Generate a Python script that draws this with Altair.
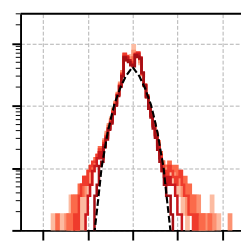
import altair as alt
import pandas as pd
import numpy as np

# ---- data ----
bin_start = -2.0
bin_width = 0.05
n_bins = 86
count_unit = 0.0018  # density represented by one sample in a bin

series_names = ["s0", "s1", "s2", "s3", "s4", "s5"]
series_colors = ["#fcbba1", "#fc9272", "#fb6a4a", "#ef3b2c", "#cb181d", "#a50f15"]

# counts for bins 0..25 (left tail), 26..55 (core), 56..85 (right tail)
s0_left = [0,0,0,0,1,0,0,0,1,0,0,0,2,0,0,1,0,2,0,3,2,4,5,6,8,10]
s0_core = [12,15,20,27,36,48,65,90,125,190,330,300,320,360,520,340,330,260,170,115,75,50,38,26,19,13,9,7,6,5]
s0_right = [5,4,3,4,2,3,1,2,0,2,1,0,2,0,1,0,1,0,0,2,0,0,1,0,0,0,0,0,0,0]

s1_left = [0,0,0,0,0,0,0,0,0,0,1,0,0,1,2,0,2,3,2,4,5,3,6,7,9,10]
s1_core = [11,16,21,28,34,50,63,88,130,200,350,320,290,330,420,360,350,280,175,118,78,52,40,27,21,14,10,7,6,5]
s1_right = [6,5,4,5,3,4,2,3,1,2,2,1,1,2,0,1,0,1,0,0,1,0,0,0,0,0,0,1,0,0]

s2_left = [0,0,0,0,0,0,1,0,0,0,0,1,0,2,0,2,3,2,4,3,5,6,5,8,9,12]
s2_core = [10,15,19,26,33,46,62,86,122,185,370,340,300,300,330,350,390,310,185,122,82,56,41,29,20,15,10,7,6,6]
s2_right = [7,6,5,6,4,5,3,4,2,3,1,2,1,1,0,1,0,0,1,0,0,0,0,0,0,0,0,0,0,0]

s3_left = [0,0,0,0,0,0,0,0,0,0,0,0,0,0,1,0,2,3,4,3,5,6,7,7,9,11]
s3_core = [9,14,18,24,31,44,58,84,118,178,380,350,290,280,270,380,400,320,180,118,80,54,39,28,19,13,9,6,5,4]
s3_right = [6,5,4,3,4,5,3,2,2,1,1,0,1,0,0,0,0,0,0,0,0,0,0,0,0,0,0,0,0,0]

s4_left = [0,0,0,0,0,0,0,0,0,0,0,0,0,0,0,0,0,0,0,1,2,3,5,6,8,10]
s4_core = [8,13,17,24,30,42,57,82,115,170,340,330,300,260,250,370,380,330,185,120,78,53,38,26,18,12,8,5,4,3]
s4_right = [4,3,3,2,1,1,0,0,0,0,0,0,0,0,0,0,0,0,0,0,0,0,0,0,0,0,0,0,0,0]

s5_left = [0,0,0,0,0,0,0,0,0,0,0,0,0,0,0,0,0,0,0,0,0,0,0,2,3,6]
s5_core = [7,12,16,23,29,41,56,80,112,165,330,300,280,250,240,360,340,320,190,118,76,50,36,24,17,11,7,5,3,2]
s5_right = [2,1,0,0,0,0,0,0,0,0,0,0,0,0,0,0,0,0,0,0,0,0,0,0,0,0,0,0,0,0]

series_counts = [
    s0_left + s0_core + s0_right,
    s1_left + s1_core + s1_right,
    s2_left + s2_core + s2_right,
    s3_left + s3_core + s3_right,
    s4_left + s4_core + s4_right,
    s5_left + s5_core + s5_right,
]

ref_x = [-0.88, -0.84, -0.76, -0.69, -0.62, -0.56, -0.48, -0.41, -0.28, -0.15, 0.0,
         0.15, 0.28, 0.41, 0.48, 0.56, 0.62, 0.69, 0.76, 0.84, 0.88]
ref_y = [0.0006, 0.00107, 0.0035, 0.0104, 0.02, 0.036, 0.065, 0.104, 0.19, 0.3, 0.42,
         0.3, 0.19, 0.104, 0.065, 0.036, 0.02, 0.0104, 0.0035, 0.00107, 0.0006]

x_ticks = [-2, -1, 0, 1, 2]
y_major = [0.001, 0.01, 0.1, 1]
minor_mult = [2, 3, 4, 5, 6, 7, 8, 9]

# ---- build tables ----
edges = bin_start + bin_width * np.arange(n_bins + 1)
rows = []
for name, counts in zip(series_names, series_counts):
    vals = [c * count_unit if c > 0 else 1e-6 for c in counts]
    vals = vals + [vals[-1]]
    for e, v in zip(edges, vals):
        rows.append({"series": name, "x": float(e), "d": v})
hist_df = pd.DataFrame(rows)
ref_df = pd.DataFrame({"x": ref_x, "d": ref_y})
minor_df = pd.DataFrame({"v": [m * d for d in y_major for m in minor_mult if m * d <= 3]})

xs = alt.Scale(domain=[-2.5, 2.42], nice=False, zero=False)
ys = alt.Scale(type="log", domain=[0.001, 3], nice=False)

x_axis = alt.Axis(values=x_ticks, labels=False, title=None, tickSize=10, tickWidth=2,
                  tickColor="black", domainColor="black", domainWidth=2,
                  grid=True, gridColor="#b0b0b0", gridDash=[4, 2], gridWidth=1)
y_axis = alt.Axis(values=y_major, labels=False, title=None, tickSize=9, tickWidth=2,
                  tickColor="black", domainColor="black", domainWidth=2,
                  grid=True, gridColor="#b0b0b0", gridDash=[4, 2], gridWidth=1)

hist = alt.Chart(hist_df).mark_line(interpolate="step-after", clip=True, strokeWidth=2.6).encode(
    x=alt.X("x:Q", scale=xs, axis=x_axis),
    y=alt.Y("d:Q", scale=ys, axis=y_axis),
    color=alt.Color("series:N", scale=alt.Scale(domain=series_names, range=series_colors), legend=None),
    detail="series:N",
)

ref = alt.Chart(ref_df).mark_line(color="black", strokeWidth=2.2, strokeDash=[7, 3], clip=True).encode(
    x=alt.X("x:Q", scale=xs, axis=x_axis),
    y=alt.Y("d:Q", scale=ys, axis=y_axis),
)

minor = alt.Chart(minor_df).mark_rule(color="black", strokeWidth=1).encode(
    y=alt.Y("v:Q", scale=ys, axis=y_axis),
    x=alt.value(-5),
    x2=alt.value(0),
)

top = alt.Chart(pd.DataFrame({"a": [0]})).mark_rule(color="black", strokeWidth=2).encode(
    y=alt.value(0), x=alt.value(0), x2=alt.value(228)
)

chart = alt.layer(hist, ref, minor, top).properties(
    width=228, height=224,
    autosize=alt.AutoSizeParams(type="none"),
    padding={"left": 13, "top": 2, "right": 0, "bottom": 8},
).configure_view(stroke=None)

chart.save("out.html", embed_options={"renderer": "svg", "actions": False})
